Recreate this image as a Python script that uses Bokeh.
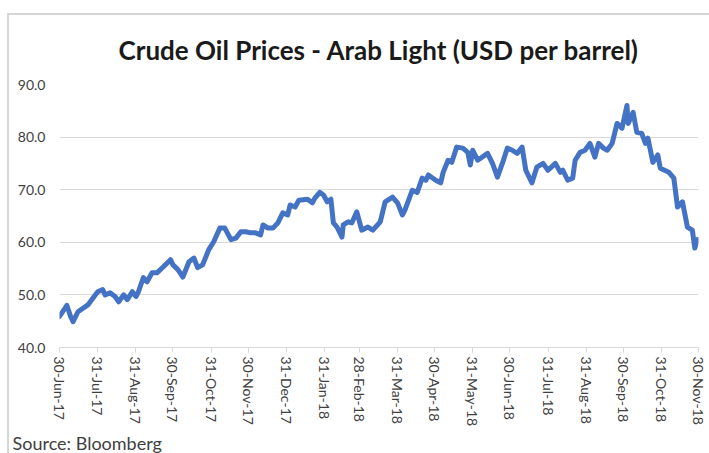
import pandas as pd
from bokeh.plotting import figure
from bokeh.models import Range1d, FixedTicker, Title, ColumnDataSource
from bokeh.embed import file_html
from bokeh.resources import INLINE

dates = ["2017-06-30", "2017-07-06", "2017-07-09", "2017-07-11", "2017-07-15", "2017-07-23",
         "2017-07-31", "2017-08-04", "2017-08-06", "2017-08-10", "2017-08-14", "2017-08-17",
         "2017-08-21", "2017-08-24", "2017-08-28", "2017-08-31", "2017-09-02", "2017-09-06",
         "2017-09-09", "2017-09-13", "2017-09-17", "2017-09-22", "2017-09-28", "2017-09-30",
         "2017-10-04", "2017-10-08", "2017-10-13", "2017-10-17", "2017-10-20", "2017-10-24",
         "2017-10-29", "2017-11-02", "2017-11-07", "2017-11-11", "2017-11-16", "2017-11-20",
         "2017-11-24", "2017-11-28", "2017-12-02", "2017-12-06", "2017-12-10", "2017-12-12",
         "2017-12-16", "2017-12-20", "2017-12-24", "2017-12-28", "2018-01-01", "2018-01-03",
         "2018-01-07", "2018-01-10", "2018-01-17", "2018-01-21", "2018-01-23", "2018-01-27",
         "2018-01-30", "2018-02-02", "2018-02-05", "2018-02-07", "2018-02-10", "2018-02-14",
         "2018-02-15", "2018-02-19", "2018-02-22", "2018-02-26", "2018-03-02", "2018-03-07",
         "2018-03-11", "2018-03-17", "2018-03-21", "2018-03-27", "2018-03-31", "2018-04-04",
         "2018-04-06", "2018-04-12", "2018-04-16", "2018-04-20", "2018-04-23", "2018-04-25",
         "2018-05-01", "2018-05-05", "2018-05-07", "2018-05-11", "2018-05-14", "2018-05-18",
         "2018-05-23", "2018-05-27", "2018-05-29", "2018-05-31", "2018-06-04", "2018-06-12",
         "2018-06-16", "2018-06-20", "2018-06-24", "2018-06-28", "2018-07-02", "2018-07-06",
         "2018-07-10", "2018-07-13", "2018-07-18", "2018-07-22", "2018-07-27", "2018-07-31",
         "2018-08-06", "2018-08-10", "2018-08-12", "2018-08-16", "2018-08-20", "2018-08-22",
         "2018-08-26", "2018-08-30", "2018-09-03", "2018-09-07", "2018-09-10", "2018-09-14",
         "2018-09-17", "2018-09-21", "2018-09-25", "2018-09-29", "2018-10-03", "2018-10-04",
         "2018-10-08", "2018-10-11", "2018-10-15", "2018-10-18", "2018-10-20", "2018-10-24",
         "2018-10-28", "2018-10-30", "2018-11-06", "2018-11-10", "2018-11-13", "2018-11-17",
         "2018-11-21", "2018-11-25", "2018-11-27", "2018-11-29"]

prices = [45.9, 48.0, 45.9, 44.9, 46.8, 48.1,
          50.6, 51.0, 50.0, 50.4, 49.7, 48.7,
          50.0, 49.1, 50.6, 49.7, 50.6, 53.3,
          52.5, 54.2, 54.2, 55.3, 56.7, 55.7,
          54.8, 53.4, 56.3, 57.0, 55.2, 55.7,
          58.6, 60.1, 62.7, 62.7, 60.5, 60.8,
          62.0, 62.0, 61.8, 61.8, 61.4, 63.3,
          62.7, 62.7, 63.7, 65.6, 65.2, 67.1,
          66.7, 68.0, 68.2, 67.5, 68.4, 69.5,
          69.0, 67.7, 68.2, 63.7, 62.9, 61.0,
          63.3, 63.9, 63.7, 65.8, 62.3, 62.9,
          62.3, 63.9, 67.7, 68.6, 67.5, 65.2,
          66.1, 69.9, 69.5, 72.2, 71.8, 72.8,
          71.8, 71.3, 73.3, 75.6, 75.2, 78.1,
          77.9, 77.1, 74.7, 77.5, 75.6, 76.9,
          75.0, 72.4, 75.0, 77.9, 77.5, 76.9,
          78.1, 73.7, 71.3, 74.3, 75.0, 73.7,
          75.0, 73.3, 73.7, 71.8, 72.2, 75.6,
          77.1, 77.5, 78.8, 76.2, 78.8, 77.9,
          77.5, 78.8, 82.6, 81.7, 86.0, 82.6,
          84.7, 80.9, 80.7, 78.8, 79.8, 75.2,
          76.6, 74.1, 73.3, 72.2, 66.7, 67.7,
          62.9, 62.3, 58.9, 60.5]

tick_dates = ["2017-06-30", "2017-07-31", "2017-08-31", "2017-09-30", "2017-10-31",
              "2017-11-30", "2017-12-31", "2018-01-31", "2018-02-28", "2018-03-31",
              "2018-04-30", "2018-05-31", "2018-06-30", "2018-07-31", "2018-08-31",
              "2018-09-30", "2018-10-31", "2018-11-30"]
tick_labels = ["30-Jun-17", "31-Jul-17", "31-Aug-17", "30-Sep-17", "31-Oct-17",
               "30-Nov-17", "31-Dec-17", "31-Jan-18", "28-Feb-18", "31-Mar-18",
               "30-Apr-18", "31-May-18", "30-Jun-18", "31-Jul-18", "31-Aug-18",
               "30-Sep-18", "31-Oct-18", "30-Nov-18"]
y_ticks = [40, 50, 60, 70, 80, 90]

title_text = "Crude Oil Prices - Arab Light (USD per barrel)"
source_text = "Source:  Bloomberg"

# layout (figure pixels)
W, H = 709, 453
FL, FR, FT, FB = 59, 698, 84, 348
Y0, Y1 = 40, 90

src = ColumnDataSource(dict(date=pd.to_datetime(dates), price=prices))

p = figure(width=W, height=H, x_axis_type="datetime", output_backend="svg",
           toolbar_location=None, tools="",
           x_range=Range1d(pd.Timestamp(tick_dates[0]), pd.Timestamp(tick_dates[-1])),
           y_range=Range1d(Y0, Y1),
           min_border_left=FL, min_border_right=W - FR,
           min_border_top=FT, min_border_bottom=H - FB)
p.outline_line_color = None
p.background_fill_color = None
p.border_fill_color = None
# grey chart-area border (top and left edges) drawn behind the transparent canvas
p.styles = {"background": "linear-gradient(#d6d6d6, #d6d6d6) 7px 13px / 702px 2px no-repeat, "
                          "linear-gradient(#d6d6d6, #d6d6d6) 7px 13px / 2px 440px no-repeat, #ffffff"}

p.line("date", "price", source=src, line_color="#4472C4", line_width=5,
       line_join="round", line_cap="round")

# axes
tick_ms = [pd.Timestamp(d).value / 1e6 for d in tick_dates]
p.xaxis.ticker = FixedTicker(ticks=tick_ms)
p.xaxis.major_label_overrides = {t: l for t, l in zip(tick_ms, tick_labels)}
p.xaxis.major_label_orientation = "vertical"
p.xaxis.axis_line_color = "#d9d9d9"
p.xaxis.axis_line_width = 1
p.xaxis.major_tick_line_color = "#d9d9d9"
p.xaxis.major_tick_out = 5
p.xaxis.major_tick_in = 0
p.xaxis.minor_tick_line_color = None
p.xaxis.major_label_standoff = 4
p.xaxis.major_label_text_font = "Lato"
p.xaxis.major_label_text_font_size = "14px"
p.xaxis.major_label_text_color = "#404040"

p.yaxis.ticker = FixedTicker(ticks=y_ticks)
p.yaxis.major_label_overrides = {t: f"{t:.1f}" for t in y_ticks}
p.yaxis.axis_line_color = None
p.yaxis.major_tick_line_color = None
p.yaxis.minor_tick_line_color = None
p.yaxis.major_label_standoff = 8
p.yaxis.major_label_text_font = "Lato"
p.yaxis.major_label_text_font_size = "14px"
p.yaxis.major_label_text_color = "#404040"

p.xgrid.grid_line_color = None
p.ygrid.grid_line_color = "#d9d9d9"
p.ygrid.grid_line_width = 1

# texts
p.add_layout(Title(text=title_text, align="center", text_font="Lato", text_font_style="bold",
                   text_font_size="26px", text_color="#1a1a1a", standoff=37), "above")
p.add_layout(Title(text=source_text, align="left", offset=-47, text_font="Lato",
                   text_font_style="normal", text_font_size="18px", text_color="#404040",
                   standoff=0), "below")

open("out.html", "w").write(file_html(p, INLINE))
